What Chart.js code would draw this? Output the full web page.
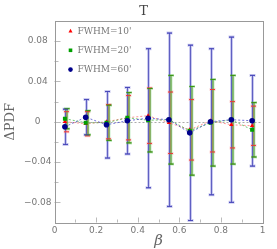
<!DOCTYPE html>
<html>
<head>
<meta charset="utf-8">
<script src="https://cdn.jsdelivr.net/npm/chart.js@4/dist/chart.umd.min.js"></script>
<style>
  html, body { margin: 0; padding: 0; background: #fff; }
  #wrap { width: 277px; height: 249px; }
</style>
</head>
<body>
<div id="wrap"><canvas id="grafico" width="277" height="249"></canvas></div>
<script>
// dados
const beta = [0.05, 0.15, 0.25, 0.35, 0.45, 0.55, 0.65, 0.75, 0.85, 0.95];

const fwhm10 = [0.000, -0.002, 0.000, 0.004, 0.006, -0.001, -0.008, 0.001, -0.003, -0.004];
const fwhm10Err = [0.010, 0.012, 0.017, 0.022, 0.0275, 0.0305, 0.030, 0.031, 0.023, 0.0195];

const fwhm20 = [0.003, -0.001, -0.001, 0.004, 0.0015, 0.002, -0.009, -0.001, 0.002, -0.008];
const fwhm20Err = [0.010, 0.012, 0.0175, 0.025, 0.0315, 0.044, 0.044, 0.043, 0.044, 0.027];

const fwhm60 = [-0.005, 0.0045, -0.003, 0.001, 0.0035, 0.002, -0.011, 0.000, 0.002, 0.001];
const fwhm60Err = [0.0175, 0.0175, 0.033, 0.033, 0.069, 0.086, 0.087, 0.0725, 0.082, 0.045];

const xTicks = [0, 0.2, 0.4, 0.6, 0.8, 1];
const xMinor = [0.1, 0.3, 0.5, 0.7, 0.9];
const yTicks = [-0.08, -0.04, 0, 0.04, 0.08];
const yMinor = [-0.06, -0.02, 0.02, 0.06];

const legendas = ["FWHM=10'", "FWHM=20'", "FWHM=60'"];

window.addEventListener('DOMContentLoaded', () => {
  const series = [
    { nome: legendas[0], y: fwhm10, err: fwhm10Err, cor: '#ff0000', linha: 'rgba(255,90,90,0.65)',
      faixa: 'rgba(255,175,175,0.5)', nucleo: 'rgba(255,120,120,0.45)', tampa: 'rgba(235,50,50,0.9)',
      estilo: 'triangle', raio: 2.5, dx: 1, ordem: 2 },
    { nome: legendas[1], y: fwhm20, err: fwhm20Err, cor: '#00a000', linha: 'rgba(40,170,40,0.65)',
      faixa: 'rgba(140,220,140,0.5)', nucleo: 'rgba(60,130,10,0.85)', tampa: 'rgba(60,150,20,0.9)',
      estilo: 'rect', raio: 2.8, dx: 1.5, ordem: 1 },
    { nome: legendas[2], y: fwhm60, err: fwhm60Err, cor: '#00008b', linha: 'rgba(40,40,200,0.65)',
      faixa: 'rgba(150,150,225,0.5)', nucleo: 'rgba(70,70,185,0.8)', tampa: 'rgba(70,70,185,0.85)',
      estilo: 'circle', raio: 2.8, dx: 0, ordem: 0 }
  ];

  const fmtY = v => {
    if (Math.abs(v) < 1e-9) return '0';
    return (v < 0 ? '\u2212' : '') + Math.abs(v).toFixed(2);
  };
  const fmtX = v => String(Math.round(v * 10) / 10);

  // barras de erro, moldura e marcas
  const extras = {
    id: 'extras',
    beforeDatasetsDraw(chart) {
      const { ctx, chartArea: a, scales: { x, y } } = chart;
      ctx.save();

      // linha do zero
      ctx.strokeStyle = '#aaa';
      ctx.lineWidth = 1;
      ctx.setLineDash([2, 2]);
      const y0 = Math.round(y.getPixelForValue(0)) + 0.5;
      ctx.beginPath();
      ctx.moveTo(a.left, y0);
      ctx.lineTo(a.right, y0);
      ctx.stroke();
      ctx.setLineDash([]);

      // marcas internas
      ctx.strokeStyle = '#bbb';
      const marcaX = (v, len) => {
        const px = Math.round(x.getPixelForValue(v)) + 0.5;
        ctx.beginPath(); ctx.moveTo(px, a.bottom); ctx.lineTo(px, a.bottom - len); ctx.stroke();
      };
      const marcaY = (v, len) => {
        const py = Math.round(y.getPixelForValue(v)) + 0.5;
        ctx.beginPath(); ctx.moveTo(a.left, py); ctx.lineTo(a.left + len, py); ctx.stroke();
      };
      xTicks.forEach(v => marcaX(v, 5));
      xMinor.forEach(v => marcaX(v, 3));
      yTicks.forEach(v => marcaY(v, 6));
      yMinor.forEach(v => marcaY(v, 4));

      // moldura
      ctx.strokeStyle = '#999';
      ctx.strokeRect(Math.round(a.left) + 0.5, Math.round(a.top) + 0.5,
        Math.round(a.right - a.left), Math.round(a.bottom - a.top));

      const pos = (s, i) => ({
        px: Math.round(x.getPixelForValue(beta[i])) + 0.5 + s.dx,
        pt: y.getPixelForValue(s.y[i] + s.err[i]),
        pb: y.getPixelForValue(s.y[i] - s.err[i])
      });
      const traco = (s, i, cor, w, meia, tampas) => {
        const { px, pt, pb } = pos(s, i);
        ctx.strokeStyle = cor;
        ctx.lineWidth = w;
        ctx.beginPath();
        if (!tampas) { ctx.moveTo(px, pt); ctx.lineTo(px, pb); }
        ctx.moveTo(px - meia, pt); ctx.lineTo(px + meia, pt);
        ctx.moveTo(px - meia, pb); ctx.lineTo(px + meia, pb);
        ctx.stroke();
      };

      // faixas claras, depois núcleos, depois tampas vermelhas
      [series[2], series[0], series[1]].forEach(s => beta.forEach((b, i) => traco(s, i, s.faixa, 3, 3, false)));
      [series[2], series[0], series[1]].forEach(s => beta.forEach((b, i) => traco(s, i, s.nucleo, 1, 2.5, false)));
      series.forEach(s => beta.forEach((b, i) => traco(s, i, s.tampa, 1, 2.5, true)));
      ctx.restore();
    },
    afterDraw(chart) {
      const { ctx, chartArea: a } = chart;
      ctx.save();
      // título
      ctx.fillStyle = '#444';
      ctx.font = '13px "DejaVu Serif", serif';
      ctx.textAlign = 'center';
      ctx.textBaseline = 'middle';
      ctx.fillText('T', 143.5, 12);

      // legenda dentro do gráfico
      ctx.font = '9px "DejaVu Serif", serif';
      ctx.textAlign = 'left';
      series.forEach((s, i) => {
        const mx = a.left + 16;
        const my = a.top + 10 + i * 19.3;
        ctx.fillStyle = s.cor;
        ctx.beginPath();
        if (s.estilo === 'triangle') {
          ctx.moveTo(mx, my - 2.2); ctx.lineTo(mx + 2, my + 1.5); ctx.lineTo(mx - 2, my + 1.5); ctx.closePath();
        } else if (s.estilo === 'rect') {
          ctx.rect(mx - 1.8, my - 1.8, 3.6, 3.6);
        } else {
          ctx.arc(mx, my, 2.3, 0, Math.PI * 2);
        }
        ctx.fill();
        ctx.fillStyle = '#777';
        ctx.fillText(s.nome, mx + 7, my + 0.5);
      });
      ctx.restore();
    }
  };

  const ctx = document.getElementById('grafico').getContext('2d');
  new Chart(ctx, {
    type: 'scatter',
    data: {
      datasets: series.map(s => ({
        label: s.nome,
        data: beta.map((b, i) => ({ x: b, y: s.y[i] })),
        showLine: true,
        borderColor: s.linha,
        borderWidth: 1,
        borderDash: [2, 2],
        pointStyle: s.estilo,
        pointRadius: s.raio,
        pointBackgroundColor: s.cor,
        pointBorderColor: s.cor,
        pointBorderWidth: 0,
        order: s.ordem
      }))
    },
    options: {
      responsive: false,
      animation: false,
      layout: { padding: { top: 21, right: 14.5, left: 0, bottom: 0 } },
      plugins: { legend: { display: false }, tooltip: { enabled: false }, title: { display: false } },
      scales: {
        x: {
          type: 'linear', min: 0, max: 1,
          afterBuildTicks: s => { s.ticks = xTicks.map(v => ({ value: v })); },
          afterFit: s => { s.height = 26.5; },
          grid: { display: false, drawTicks: false },
          border: { display: false },
          ticks: { padding: 3, color: '#777', font: { size: 9, family: '"DejaVu Sans", sans-serif' },
            callback: v => fmtX(v), maxRotation: 0 },
          title: { display: true, text: 'β', color: '#666',
            font: { size: 15, style: 'italic', family: '"DejaVu Serif", serif', lineHeight: 1 },
            padding: { top: 0, bottom: 0 } }
        },
        y: {
          type: 'linear', min: -0.1, max: 0.1,
          afterBuildTicks: s => { s.ticks = yTicks.map(v => ({ value: v })); },
          afterFit: s => { s.width = 54.5; },
          grid: { display: false, drawTicks: false },
          border: { display: false },
          ticks: { padding: 3, crossAlign: 'center', color: '#777',
            font: { size: 9, family: '"DejaVu Sans", sans-serif' }, callback: v => fmtY(v) },
          title: { display: true, text: 'ΔPDF', color: '#666',
            font: { size: 13, family: '"DejaVu Serif", serif', lineHeight: 1.2 },
            padding: { top: 3, bottom: 0 } }
        }
      }
    },
    plugins: [extras]
  });
});
</script>
</body>
</html>
